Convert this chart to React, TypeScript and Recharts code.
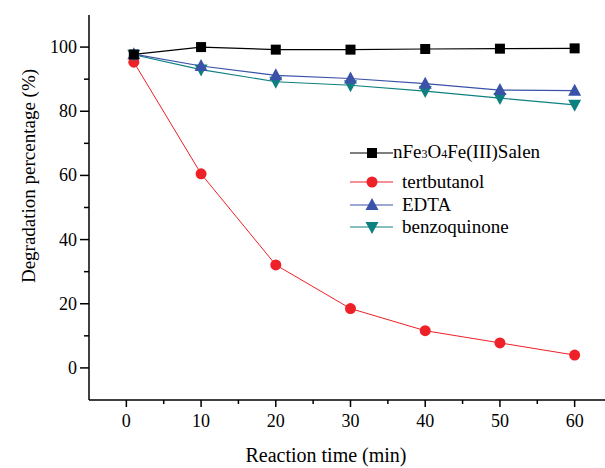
import React from "react";
import { LineChart, Line, XAxis, YAxis } from "recharts";

const times = [1, 10, 20, 30, 40, 50, 60];
const salen = [97.7, 100, 99.2, 99.2, 99.4, 99.5, 99.6];
const tertbutanol = [95.3, 60.5, 32.1, 18.5, 11.6, 7.8, 4.0];
const edta = [97.8, 94.1, 91.2, 90.2, 88.6, 86.6, 86.4];
const benzoquinone = [97.6, 93.0, 89.2, 88.1, 86.3, 84.1, 82.0];

const xTicks = [0, 5, 10, 15, 20, 25, 30, 35, 40, 45, 50, 55, 60];
const yTicks = [0, 10, 20, 30, 40, 50, 60, 70, 80, 90, 100];

const data = times.map((t, i) => ({
  t,
  salen: salen[i],
  tert: tertbutanol[i],
  edta: edta[i],
  benzo: benzoquinone[i],
}));

const FONT = "'Liberation Serif', 'Times New Roman', serif";
const RED = "#ee2028";
const BLUE = "#3a52a8";
const TEAL = "#0e8080";

const Square = ({ cx, cy }: any) => (
  <rect x={cx - 5} y={cy - 5} width={10} height={10} fill="#000" />
);
const Circle = ({ cx, cy }: any) => <circle cx={cx} cy={cy} r={5.5} fill={RED} />;
const TriUp = ({ cx, cy }: any) => (
  <polygon
    points={`${cx},${cy - 7} ${cx - 6.5},${cy + 5} ${cx + 6.5},${cy + 5}`}
    fill={BLUE}
  />
);
const TriDown = ({ cx, cy }: any) => (
  <polygon
    points={`${cx},${cy + 7} ${cx - 6.5},${cy - 5} ${cx + 6.5},${cy - 5}`}
    fill={TEAL}
  />
);

// ticks: long for labelled values, short for minor ones
const XTick = ({ x, y, payload }: any) => {
  const major = payload.value % 10 === 0;
  return (
    <g>
      <line x1={x} y1={y} x2={x} y2={y + (major ? 7 : 4)} stroke="#000" strokeWidth={1.5} />
      {major && (
        <text x={x} y={y + 27} textAnchor="middle" fontFamily={FONT} fontSize={18} fill="#000">
          {payload.value}
        </text>
      )}
    </g>
  );
};

const YTick = ({ x, y, payload }: any) => {
  const major = payload.value % 20 === 0;
  return (
    <g>
      <line x1={x} y1={y} x2={x - (major ? 9 : 5)} y2={y} stroke="#000" strokeWidth={1.5} />
      {major && (
        <text x={x - 12} y={y + 6} textAnchor="end" fontFamily={FONT} fontSize={18} fill="#000">
          {payload.value}
        </text>
      )}
    </g>
  );
};

const XTitle = () => (
  <text x={326} y={462} textAnchor="middle" fontFamily={FONT} fontSize={20} fill="#000">
    Reaction time (min)
  </text>
);

const YTitle = () => (
  <text
    x={0}
    y={0}
    transform="translate(35 176) rotate(-90)"
    textAnchor="middle"
    fontFamily={FONT}
    fontSize={19}
    fill="#000"
  >
    Degradation percentage (%)
  </text>
);

const legendRows = [
  { key: "salen", color: "#000", marker: "square", cy: 153 },
  { key: "tert", color: RED, marker: "circle", cy: 182 },
  { key: "edta", color: BLUE, marker: "up", cy: 205 },
  { key: "benzo", color: TEAL, marker: "down", cy: 227 },
];

function LegendMarker({ marker, color }: { marker: string; color: string }) {
  return (
    <svg width={43} height={16} style={{ display: "block" }}>
      <line x1={0} y1={8} x2={43} y2={8} stroke={color} strokeWidth={1.2} />
      {marker === "square" && <rect x={17} y={3} width={10} height={10} fill={color} />}
      {marker === "circle" && <circle cx={22} cy={8} r={5.5} fill={color} />}
      {marker === "up" && <polygon points="22,1 15.5,13 28.5,13" fill={color} />}
      {marker === "down" && <polygon points="22,15 15.5,3 28.5,3" fill={color} />}
    </svg>
  );
}

function ChartLegend() {
  const labels: Record<string, React.ReactNode> = {
    salen: (
      <span>
        nFe<span style={{ fontSize: 12 }}>3</span>O<span style={{ fontSize: 12 }}>4</span>Fe(III)Salen
      </span>
    ),
    tert: "tertbutanol",
    edta: "EDTA",
    benzo: "benzoquinone",
  };
  return (
    <div style={{ position: "absolute", left: 350, top: 0, fontFamily: FONT, fontSize: 19, color: "#000" }}>
      {legendRows.map((r) => (
        <div
          key={r.key}
          style={{ position: "absolute", top: r.cy - 8, left: 0, display: "flex", alignItems: "center", height: 16 }}
        >
          <LegendMarker marker={r.marker} color={r.color} />
          <span style={{ marginLeft: r.key === "salen" ? 0 : 9, lineHeight: "16px", whiteSpace: "nowrap" }}>
            {labels[r.key]}
          </span>
        </div>
      ))}
    </div>
  );
}

export default function App() {
  return (
    <div
      style={{
        position: "absolute",
        left: 0,
        top: 0,
        width: 605,
        height: 468,
        overflow: "hidden",
        background: "#fff",
      }}
    >
      <LineChart
        width={613}
        height={468}
        data={data}
        margin={{ top: 15, right: 1, left: 0, bottom: 0 }}
      >
        <XAxis
          dataKey="t"
          type="number"
          domain={[-5, 65]}
          ticks={xTicks}
          allowDataOverflow
          tick={<XTick />}
          tickLine={false}
          tickSize={0}
          tickMargin={0}
          height={68}
          axisLine={{ stroke: "#000", strokeWidth: 1.5 }}
          label={<XTitle />}
        />
        <XAxis
          xAxisId="top"
          dataKey="t"
          type="number"
          orientation="top"
          domain={[-5, 65]}
          height={0}
          tick={false}
          tickLine={false}
          axisLine={{ stroke: "#000", strokeWidth: 1.5 }}
        />
        <YAxis
          type="number"
          domain={[-10, 110]}
          ticks={yTicks}
          allowDataOverflow
          tick={<YTick />}
          tickLine={false}
          tickSize={0}
          tickMargin={0}
          width={89}
          axisLine={{ stroke: "#000", strokeWidth: 1.5 }}
          label={<YTitle />}
        />
        <YAxis
          yAxisId="right"
          orientation="right"
          type="number"
          domain={[-10, 110]}
          width={0}
          tick={false}
          tickLine={false}
          axisLine={{ stroke: "#000", strokeWidth: 1.5 }}
        />
        <Line dataKey="tert" stroke={RED} strokeWidth={1} dot={<Circle />} activeDot={false} isAnimationActive={false} />
        <Line dataKey="benzo" stroke={TEAL} strokeWidth={1.2} dot={<TriDown />} activeDot={false} isAnimationActive={false} />
        <Line dataKey="edta" stroke={BLUE} strokeWidth={1.2} dot={<TriUp />} activeDot={false} isAnimationActive={false} />
        <Line dataKey="salen" stroke="#000" strokeWidth={1.2} dot={<Square />} activeDot={false} isAnimationActive={false} />
      </LineChart>
      <ChartLegend />
    </div>
  );
}
